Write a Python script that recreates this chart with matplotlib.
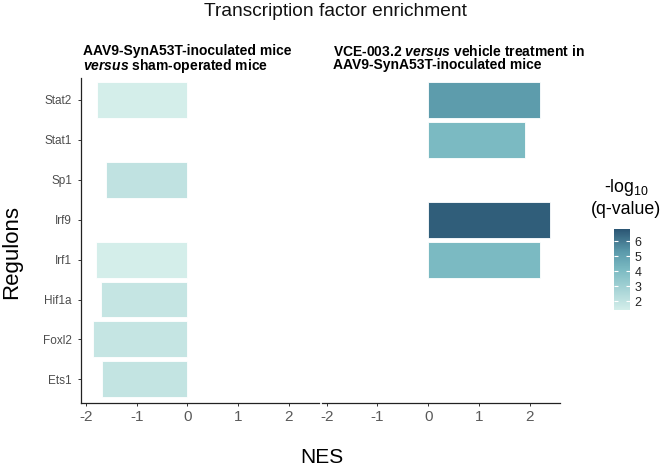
import matplotlib
matplotlib.use('Agg')
import matplotlib.pyplot as plt
import numpy as np
from matplotlib.colors import LinearSegmentedColormap, Normalize
from matplotlib.cm import ScalarMappable

plt.rcParams['font.family'] = ['Liberation Sans', 'DejaVu Sans']
plt.rcParams['mathtext.fontset'] = 'custom'
plt.rcParams['mathtext.rm'] = 'Liberation Sans'
plt.rcParams['mathtext.it'] = 'Liberation Sans:italic'
plt.rcParams['mathtext.bf'] = 'Liberation Sans:bold'
plt.rcParams['mathtext.bfit'] = 'Liberation Sans:bold:italic'

# ---- data ----
regulons = ['Ets1', 'Foxl2', 'Hif1a', 'Irf1', 'Irf9', 'Sp1', 'Stat1', 'Stat2']
left_nes = [-1.69, -1.86, -1.71, -1.80, np.nan, -1.61, np.nan, -1.78]
left_q = [1.94, 1.85, 1.85, 1.42, np.nan, 2.03, np.nan, 1.42]
right_nes = [np.nan, np.nan, np.nan, 2.20, 2.41, np.nan, 1.91, 2.21]
right_q = [np.nan, np.nan, np.nan, 4.1, 6.6, np.nan, 4.1, 5.2]
x_ticks = [-2, -1, 0, 1, 2]
cbar_ticks = [2, 3, 4, 5, 6]
q_min, q_max = 1.4, 6.78

W, H = 669, 465
fig = plt.figure(figsize=(W / 100, H / 100), dpi=100)

def fx(x):
    return x / W

def fy(y):
    return 1 - y / H

cmap = LinearSegmentedColormap.from_list(
    'teal', [(0.0, '#d4eeea'), (0.5, '#7bbac2'), (0.72, '#5b9aab'), (1.0, '#2b5674')])
norm = Normalize(q_min, q_max)

ax_top, ax_bot = 78, 403.3
ax1 = fig.add_axes([fx(81), fy(ax_bot), (319 - 81) / W, (ax_bot - ax_top) / H])
ax2 = fig.add_axes([fx(321.7), fy(ax_bot), (560 - 321.7) / W, (ax_bot - ax_top) / H])

ypos = np.arange(len(regulons))
for ax, nes, q in [(ax1, left_nes, left_q), (ax2, right_nes, right_q)]:
    for yi, v, qq in zip(ypos, nes, q):
        if np.isnan(v):
            continue
        ax.barh(yi, v, height=0.9, color=cmap(norm(qq)), edgecolor='white', linewidth=0.6)
    ax.set_xlim(-2.1, 2.6)
    ax.set_ylim(-0.6, 7.55)
    ax.set_xticks(x_ticks)
    ax.set_xticklabels([str(t) for t in x_ticks])
    ax.tick_params(axis='x', length=2.5, width=0.7, color='#333333', labelcolor='#5a5a5a',
                   labelsize=11, pad=2)
    for s in ['top', 'right']:
        ax.spines[s].set_visible(False)
    ax.spines['bottom'].set_linewidth(0.9)
    ax.spines['bottom'].set_color('#222222')
    ax.spines['left'].set_linewidth(0.9)
    ax.spines['left'].set_color('#222222')

ax1.set_yticks(ypos)
ax1.set_yticklabels(regulons)
ax1.tick_params(axis='y', length=2.5, width=0.7, color='#333333', labelcolor='#4d4d4d',
                labelsize=8.5, pad=4)
ax2.spines['left'].set_visible(False)
ax2.set_yticks([])

# colorbar
cax = fig.add_axes([fx(614.3), fy(310), 16 / W, (310 - 229.3) / H])
cb = fig.colorbar(ScalarMappable(norm=norm, cmap=cmap), cax=cax, ticks=cbar_ticks)
cb.outline.set_visible(False)
cb.minorticks_off()
cax.tick_params(which='both', direction='in', length=3, width=0.8, color='white',
                left=True, right=True, labelsize=9, pad=3, labelcolor='#222222')

# texts
fig.text(fx(335), fy(16), 'Transcription factor enrichment', ha='center', va='baseline',
         fontsize=13.8, color='#111111')
fig.text(fx(83), fy(44), 'AAV9-SynA53T-inoculated mice\n'
         r'$\mathbfit{versus}$ sham-operated mice', ha='left', va='top',
         fontsize=10, fontweight='bold', linespacing=0.95)
fig.text(fx(333), fy(44), r'VCE-003.2 $\mathbfit{versus}$ vehicle treatment in' '\n'
         'AAV9-SynA53T-inoculated mice', ha='left', va='top',
         fontsize=10, fontweight='bold', linespacing=0.95)

fig.text(fx(627), fy(192), r'-log$_{10}$', ha='center', va='baseline', fontsize=12.8)
fig.text(fx(626), fy(213.5), '(q-value)', ha='center', va='baseline', fontsize=12.8)

fig.text(fx(12), fy(252), 'Regulons', rotation=90, ha='center', va='center', fontsize=16)
fig.text(fx(322), fy(457), 'NES', ha='center', va='center', fontsize=15)

fig.savefig('out.png', dpi=100)
